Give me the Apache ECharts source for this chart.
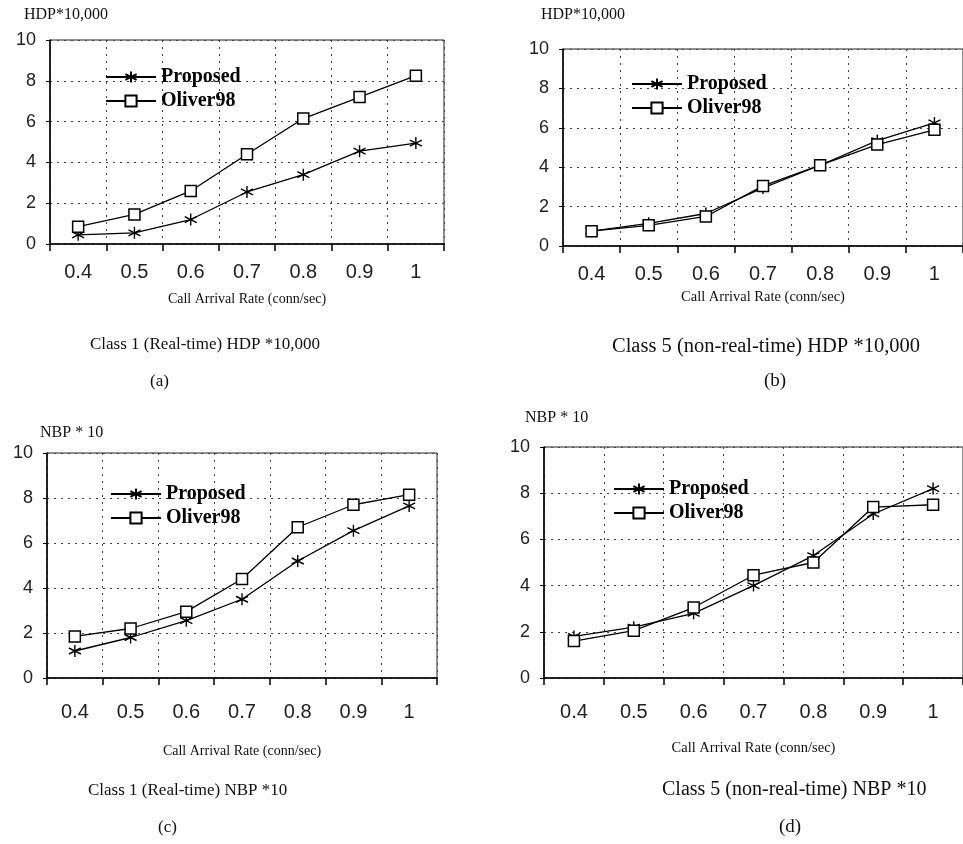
<!DOCTYPE html>
<html><head><meta charset="utf-8">
<script src="https://cdn.jsdelivr.net/npm/echarts@6/dist/echarts.min.js"></script>
<style>html,body{margin:0;padding:0;background:#fff}#c{width:963px;height:844px}</style>
</head><body><div id="c"></div>
<script>
const categories = ['0.4','0.5','0.6','0.7','0.8','0.9','1'];
const seriesNames = ['Proposed','Oliver98'];
const proposedA = [0.45,0.55,1.2,2.55,3.4,4.55,4.95];
const oliverA   = [0.85,1.45,2.6,4.4,6.15,7.2,8.25];
const proposedB = [0.75,1.15,1.65,2.95,4.1,5.35,6.25];
const oliverB   = [0.75,1.05,1.5,3.05,4.1,5.15,5.9];
const proposedC = [1.2,1.8,2.55,3.5,5.2,6.55,7.65];
const oliverC   = [1.85,2.2,2.95,4.4,6.7,7.7,8.15];
const proposedD = [1.8,2.2,2.8,4.0,5.3,7.1,8.2];
const oliverD   = [1.6,2.05,3.05,4.45,5.0,7.4,7.5];
const yNames = ['HDP*10,000','HDP*10,000','NBP * 10','NBP * 10'];
const xName = 'Call Arrival Rate (conn/sec)';
const captions = ['Class 1 (Real-time) HDP *10,000','Class 5 (non-real-time) HDP *10,000','Class 1 (Real-time) NBP *10','Class 5 (non-real-time) NBP *10'];
const letters = ['(a)','(b)','(c)','(d)'];

const panels = [
  {grid:{left:50,top:40,width:394,height:204}, p:proposedA, o:oliverA, nameGap:48, nameSize:14, lblMargin:18, legend:{left:100,top:62}, yName:{left:24,top:7}, cap:{left:90,top:336,size:17}, let:{left:150,top:373,size:17}},
  {grid:{left:563,top:49,width:408,height:197}, p:proposedB, o:oliverB, nameGap:44, nameSize:14.5, lblMargin:18, legend:{left:626,top:69}, yName:{left:541,top:7}, cap:{left:612,top:336,size:20.5}, let:{left:764,top:372,size:19}},
  {grid:{left:47,top:453,width:390,height:225}, p:proposedC, o:oliverC, nameGap:66, nameSize:14, lblMargin:24, legend:{left:105,top:479}, yName:{left:40,top:425}, cap:{left:88,top:782,size:17}, let:{left:158,top:819,size:17}},
  {grid:{left:544,top:447,width:428,height:231}, p:proposedD, o:oliverD, nameGap:63, nameSize:14.5, lblMargin:24, legend:{left:608,top:474}, yName:{left:525,top:410}, cap:{left:662,top:780,size:20}, let:{left:779,top:818,size:19}}
];

const star = 'path://M0,-10L0,10M-8.66,-5L8.66,5M-8.66,5L8.66,-5';
const serif = '"Liberation Serif","Times New Roman",serif';
const sans = '"Liberation Sans",Arial,sans-serif';

const option = {
  backgroundColor:'#fff',
  animation:false,
  grid:[], xAxis:[], yAxis:[], series:[], legend:[], title:[]
};
panels.forEach((pn,i)=>{
  option.grid.push(Object.assign({show:true, borderColor:'#222', borderWidth:1, backgroundColor:'transparent'}, pn.grid));
  option.xAxis.push({
    type:'category', gridIndex:i, data:categories, boundaryGap:true,
    name:xName, nameLocation:'middle', nameGap:pn.nameGap,
    nameTextStyle:{fontFamily:serif, fontSize:pn.nameSize, color:'#111'},
    axisLine:{lineStyle:{color:'#000', width:1.5}},
    axisTick:{show:true, length:7, lineStyle:{color:'#000', width:1.5}},
    axisLabel:{fontFamily:sans, fontSize:20, color:'#222', margin:pn.lblMargin},
    splitLine:{show:true, lineStyle:{type:[2,5], color:'#444', width:1}}
  });
  option.yAxis.push({
    type:'value', gridIndex:i, min:0, max:10, interval:2,
    axisLine:{show:true, lineStyle:{color:'#000', width:1.5}},
    axisTick:{show:true, length:4, lineStyle:{color:'#000'}},
    axisLabel:{fontFamily:sans, fontSize:18, color:'#222', margin:14},
    splitLine:{show:true, lineStyle:{type:[2,5], color:'#444', width:1}}
  });
  option.series.push({
    name:seriesNames[0], type:'line', xAxisIndex:i, yAxisIndex:i, data:pn.p,
    symbol:star, symbolSize:12, showAllSymbol:true,
    lineStyle:{color:'#000', width:1.3},
    itemStyle:{color:'#000', borderColor:'#000', borderWidth:1.4}
  });
  option.series.push({
    name:seriesNames[1], type:'line', xAxisIndex:i, yAxisIndex:i, data:pn.o,
    symbol:'rect', symbolSize:11, showAllSymbol:true,
    lineStyle:{color:'#000', width:1.3},
    itemStyle:{color:'#fff', borderColor:'#000', borderWidth:1.5}
  });
  option.legend.push({
    left:pn.legend.left, top:pn.legend.top, orient:'vertical',
    data:seriesNames, itemWidth:50, itemHeight:14, itemGap:4,
    selectedMode:false,
    textStyle:{fontFamily:serif, fontWeight:'bold', fontSize:20, color:'#000'}
  });
  option.title.push({text:yNames[i], left:pn.yName.left, top:pn.yName.top, padding:0,
    textStyle:{fontFamily:serif, fontSize:16, fontWeight:'normal', color:'#111'}});
  option.title.push({text:captions[i], left:pn.cap.left, top:pn.cap.top, padding:0,
    textStyle:{fontFamily:serif, fontSize:pn.cap.size, fontWeight:'normal', color:'#111'}});
  option.title.push({text:letters[i], left:pn.let.left, top:pn.let.top, padding:0,
    textStyle:{fontFamily:serif, fontSize:pn.let.size, fontWeight:'normal', color:'#111'}});
});
const chart = echarts.init(document.getElementById('c'), null, {renderer:'canvas'});
chart.setOption(option);
</script>
</body></html>
